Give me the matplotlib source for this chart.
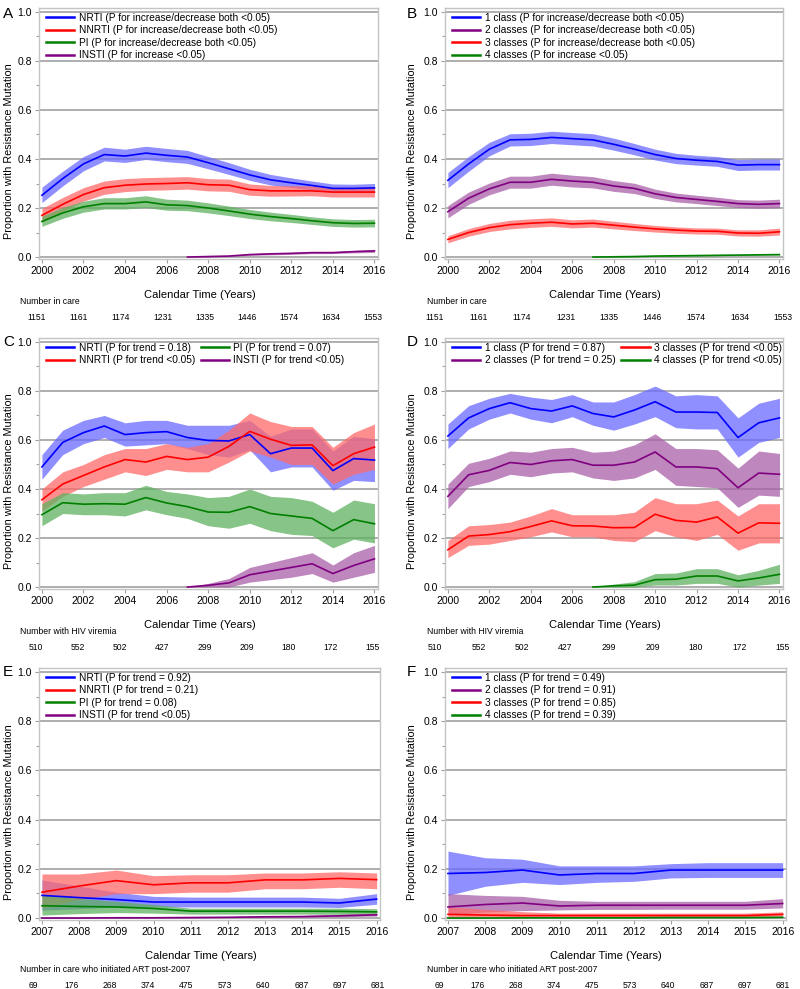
import matplotlib
matplotlib.use('Agg')
import matplotlib.pyplot as plt
import numpy as np

plt.rcParams['font.family'] = ['Liberation Sans', 'DejaVu Sans']

BLUE = '#0000ff'
RED = '#ff0000'
GREEN = '#008000'
PURPLE = '#800080'
BAND = {BLUE: '#6a6aff', RED: '#ff6a6a', GREEN: '#5fb05f', PURPLE: '#a860a8'}

YEARS_A = list(range(2000, 2017))
YEARS_I = list(range(2007, 2017))
YEARS_E = list(range(2007, 2017))

# ---- Panel A: resistance by drug class, all in care ----
A_NRTI = [0.252, 0.32, 0.38, 0.418, 0.412, 0.424, 0.415, 0.408, 0.385, 0.36, 0.335, 0.315, 0.303, 0.292, 0.28, 0.28, 0.282]
A_NRTI_HI = [0.285, 0.35, 0.41, 0.448, 0.44, 0.452, 0.443, 0.435, 0.41, 0.385, 0.358, 0.337, 0.323, 0.31, 0.298, 0.297, 0.3]
A_NRTI_LO = [0.222, 0.29, 0.352, 0.392, 0.386, 0.398, 0.389, 0.382, 0.36, 0.337, 0.313, 0.294, 0.284, 0.274, 0.264, 0.264, 0.266]
A_NNRTI = [0.17, 0.215, 0.255, 0.283, 0.293, 0.298, 0.3, 0.303, 0.295, 0.293, 0.275, 0.27, 0.27, 0.27, 0.265, 0.265, 0.265]
A_NNRTI_HI = [0.198, 0.243, 0.283, 0.31, 0.32, 0.324, 0.326, 0.328, 0.32, 0.318, 0.298, 0.292, 0.291, 0.29, 0.285, 0.285, 0.285]
A_NNRTI_LO = [0.142, 0.187, 0.228, 0.256, 0.267, 0.272, 0.274, 0.277, 0.27, 0.268, 0.252, 0.248, 0.249, 0.25, 0.245, 0.245, 0.245]
A_PI = [0.145, 0.18, 0.205, 0.218, 0.218, 0.225, 0.213, 0.21, 0.2, 0.188, 0.175, 0.165, 0.157, 0.148, 0.14, 0.137, 0.138]
A_PI_HI = [0.167, 0.203, 0.228, 0.242, 0.242, 0.25, 0.236, 0.232, 0.221, 0.208, 0.194, 0.183, 0.174, 0.164, 0.156, 0.153, 0.154]
A_PI_LO = [0.125, 0.158, 0.183, 0.196, 0.196, 0.202, 0.191, 0.189, 0.18, 0.169, 0.157, 0.148, 0.141, 0.133, 0.125, 0.122, 0.123]
A_INSTI = [0.0, 0.002, 0.004, 0.01, 0.013, 0.015, 0.018, 0.018, 0.022, 0.025]
A_INSTI_HI = [0.0, 0.004, 0.007, 0.014, 0.017, 0.019, 0.022, 0.022, 0.027, 0.031]
A_INSTI_LO = [0.0, 0.0, 0.002, 0.007, 0.009, 0.011, 0.014, 0.014, 0.017, 0.019]

# ---- Panel B: number of classes, all in care ----
B_1 = [0.313, 0.38, 0.44, 0.478, 0.48, 0.488, 0.483, 0.478, 0.46, 0.44, 0.418, 0.402, 0.395, 0.39, 0.375, 0.377, 0.377]
B_1_HI = [0.345, 0.41, 0.468, 0.503, 0.505, 0.513, 0.508, 0.503, 0.485, 0.463, 0.44, 0.423, 0.415, 0.41, 0.398, 0.4, 0.4]
B_1_LO = [0.283, 0.35, 0.413, 0.453, 0.455, 0.463, 0.458, 0.453, 0.436, 0.417, 0.396, 0.381, 0.375, 0.37, 0.353, 0.355, 0.355]
B_2 = [0.185, 0.24, 0.278, 0.305, 0.305, 0.317, 0.31, 0.305, 0.29, 0.28, 0.258, 0.243, 0.235, 0.227, 0.218, 0.215, 0.218]
B_2_HI = [0.21, 0.265, 0.302, 0.33, 0.33, 0.342, 0.334, 0.328, 0.312, 0.301, 0.277, 0.261, 0.252, 0.244, 0.234, 0.232, 0.236]
B_2_LO = [0.16, 0.215, 0.254, 0.281, 0.281, 0.293, 0.286, 0.282, 0.268, 0.259, 0.239, 0.225, 0.218, 0.21, 0.202, 0.199, 0.201]
B_3 = [0.072, 0.1, 0.12, 0.132, 0.138, 0.142, 0.135, 0.138, 0.13, 0.122, 0.115, 0.11, 0.106, 0.105, 0.098, 0.097, 0.103]
B_3_HI = [0.087, 0.116, 0.137, 0.15, 0.156, 0.16, 0.152, 0.155, 0.146, 0.137, 0.129, 0.123, 0.119, 0.118, 0.111, 0.111, 0.118]
B_3_LO = [0.058, 0.085, 0.104, 0.115, 0.121, 0.125, 0.119, 0.122, 0.115, 0.108, 0.102, 0.097, 0.094, 0.093, 0.086, 0.085, 0.09]
B_4 = [0.0, 0.001, 0.002, 0.004, 0.005, 0.006, 0.007, 0.008, 0.009, 0.01]
B_4_HI = [0.0, 0.002, 0.004, 0.006, 0.007, 0.008, 0.009, 0.01, 0.012, 0.013]
B_4_LO = [0.0, 0.0, 0.001, 0.002, 0.003, 0.004, 0.005, 0.006, 0.007, 0.008]

# ---- Panel C: drug class, with HIV viremia ----
C_NRTI = [0.49, 0.59, 0.63, 0.657, 0.622, 0.63, 0.634, 0.61, 0.598, 0.596, 0.622, 0.544, 0.567, 0.567, 0.475, 0.524, 0.518]
C_NRTI_HI = [0.54, 0.64, 0.68, 0.70, 0.67, 0.68, 0.68, 0.66, 0.66, 0.66, 0.68, 0.615, 0.645, 0.645, 0.555, 0.615, 0.605]
C_NRTI_LO = [0.44, 0.54, 0.585, 0.61, 0.575, 0.58, 0.585, 0.565, 0.54, 0.53, 0.56, 0.47, 0.49, 0.49, 0.395, 0.435, 0.43]
C_NNRTI = [0.356, 0.42, 0.455, 0.49, 0.52, 0.51, 0.533, 0.52, 0.53, 0.574, 0.635, 0.603, 0.578, 0.58, 0.495, 0.544, 0.571]
C_NNRTI_HI = [0.40, 0.47, 0.50, 0.54, 0.565, 0.565, 0.585, 0.57, 0.585, 0.64, 0.71, 0.675, 0.655, 0.655, 0.57, 0.63, 0.665]
C_NNRTI_LO = [0.31, 0.37, 0.41, 0.44, 0.47, 0.455, 0.48, 0.47, 0.47, 0.51, 0.555, 0.53, 0.50, 0.50, 0.42, 0.46, 0.48]
C_PI = [0.295, 0.344, 0.338, 0.34, 0.338, 0.365, 0.343, 0.328, 0.306, 0.305, 0.328, 0.30, 0.29, 0.28, 0.23, 0.275, 0.258]
C_PI_HI = [0.34, 0.385, 0.38, 0.385, 0.385, 0.415, 0.39, 0.38, 0.365, 0.37, 0.40, 0.37, 0.365, 0.35, 0.305, 0.355, 0.34]
C_PI_LO = [0.25, 0.30, 0.295, 0.295, 0.29, 0.315, 0.295, 0.28, 0.25, 0.24, 0.26, 0.23, 0.215, 0.21, 0.16, 0.195, 0.18]
C_INSTI = [0.0, 0.007, 0.017, 0.05, 0.065, 0.08, 0.095, 0.055, 0.088, 0.115]
C_INSTI_HI = [0.0, 0.015, 0.035, 0.08, 0.10, 0.12, 0.14, 0.09, 0.14, 0.17]
C_INSTI_LO = [0.0, 0.0, 0.0, 0.02, 0.03, 0.04, 0.055, 0.02, 0.04, 0.06]

# ---- Panel D: number of classes, with HIV viremia ----
D_1 = [0.616, 0.69, 0.728, 0.752, 0.728, 0.718, 0.739, 0.708, 0.694, 0.722, 0.756, 0.714, 0.714, 0.712, 0.61, 0.67, 0.69]
D_1_HI = [0.665, 0.74, 0.77, 0.79, 0.775, 0.765, 0.785, 0.755, 0.755, 0.785, 0.82, 0.78, 0.785, 0.78, 0.69, 0.75, 0.77]
D_1_LO = [0.565, 0.645, 0.685, 0.71, 0.685, 0.67, 0.695, 0.66, 0.64, 0.665, 0.695, 0.65, 0.645, 0.645, 0.53, 0.59, 0.61]
D_2 = [0.37, 0.458, 0.476, 0.508, 0.50, 0.515, 0.52, 0.497, 0.497, 0.51, 0.551, 0.49, 0.49, 0.483, 0.405, 0.465, 0.46]
D_2_HI = [0.42, 0.505, 0.525, 0.555, 0.55, 0.565, 0.57, 0.55, 0.555, 0.58, 0.625, 0.565, 0.565, 0.56, 0.485, 0.555, 0.545]
D_2_LO = [0.32, 0.41, 0.43, 0.46, 0.45, 0.465, 0.47, 0.445, 0.435, 0.445, 0.48, 0.415, 0.41, 0.405, 0.325, 0.375, 0.37]
D_3 = [0.152, 0.208, 0.214, 0.226, 0.247, 0.27, 0.25, 0.249, 0.242, 0.243, 0.297, 0.272, 0.265, 0.286, 0.22, 0.262, 0.26]
D_3_HI = [0.19, 0.25, 0.255, 0.265, 0.29, 0.32, 0.295, 0.295, 0.295, 0.305, 0.365, 0.34, 0.34, 0.355, 0.29, 0.34, 0.34]
D_3_LO = [0.12, 0.17, 0.175, 0.19, 0.205, 0.225, 0.205, 0.205, 0.19, 0.185, 0.23, 0.205, 0.19, 0.215, 0.15, 0.18, 0.18]
D_4 = [0.0, 0.005, 0.008, 0.03, 0.032, 0.045, 0.045, 0.025, 0.037, 0.052]
D_4_HI = [0.0, 0.012, 0.022, 0.055, 0.057, 0.075, 0.075, 0.05, 0.068, 0.093]
D_4_LO = [0.0, 0.0, 0.0, 0.008, 0.008, 0.015, 0.015, 0.0, 0.008, 0.015]

# ---- Panel E: drug class, initiated ART post-2007 ----
E_NRTI = [0.092, 0.083, 0.075, 0.065, 0.065, 0.065, 0.065, 0.065, 0.061, 0.077]
E_NRTI_HI = [0.155, 0.13, 0.105, 0.088, 0.085, 0.085, 0.085, 0.085, 0.08, 0.099]
E_NRTI_LO = [0.032, 0.038, 0.045, 0.045, 0.045, 0.045, 0.045, 0.045, 0.043, 0.056]
E_NNRTI = [0.105, 0.13, 0.152, 0.135, 0.143, 0.143, 0.155, 0.155, 0.161, 0.156]
E_NNRTI_HI = [0.179, 0.179, 0.195, 0.172, 0.176, 0.176, 0.183, 0.183, 0.188, 0.183]
E_NNRTI_LO = [0.04, 0.075, 0.099, 0.099, 0.105, 0.105, 0.119, 0.119, 0.125, 0.119]
E_PI = [0.05, 0.047, 0.045, 0.039, 0.028, 0.028, 0.028, 0.028, 0.027, 0.025]
E_PI_HI = [0.095, 0.08, 0.068, 0.055, 0.04, 0.04, 0.04, 0.04, 0.04, 0.038]
E_PI_LO = [0.012, 0.018, 0.022, 0.02, 0.016, 0.016, 0.016, 0.016, 0.015, 0.014]
E_INSTI = [0.0, 0.0, 0.001, 0.001, 0.002, 0.003, 0.005, 0.006, 0.009, 0.013]
E_INSTI_HI = [0.002, 0.002, 0.003, 0.004, 0.005, 0.006, 0.008, 0.01, 0.014, 0.02]
E_INSTI_LO = [0.0, 0.0, 0.0, 0.0, 0.0, 0.001, 0.002, 0.003, 0.005, 0.008]

# ---- Panel F: number of classes, initiated ART post-2007 ----
F_1 = [0.181, 0.185, 0.195, 0.175, 0.181, 0.181, 0.195, 0.195, 0.195, 0.195]
F_1_HI = [0.272, 0.245, 0.239, 0.212, 0.212, 0.212, 0.221, 0.225, 0.225, 0.225]
F_1_LO = [0.092, 0.129, 0.145, 0.136, 0.145, 0.149, 0.163, 0.165, 0.165, 0.165]
F_2 = [0.045, 0.055, 0.061, 0.049, 0.052, 0.052, 0.052, 0.052, 0.052, 0.059]
F_2_HI = [0.099, 0.092, 0.088, 0.072, 0.068, 0.068, 0.068, 0.068, 0.068, 0.079]
F_2_LO = [0.012, 0.025, 0.03, 0.033, 0.035, 0.035, 0.036, 0.036, 0.036, 0.041]
F_3 = [0.015, 0.012, 0.01, 0.01, 0.01, 0.01, 0.01, 0.01, 0.01, 0.015]
F_3_HI = [0.045, 0.035, 0.026, 0.02, 0.02, 0.02, 0.02, 0.02, 0.02, 0.025]
F_3_LO = [0.002, 0.003, 0.004, 0.004, 0.004, 0.004, 0.005, 0.005, 0.005, 0.008]
F_4 = [0.0, 0.0, 0.001, 0.001, 0.001, 0.001, 0.002, 0.002, 0.002, 0.003]
F_4_HI = [0.003, 0.003, 0.003, 0.003, 0.003, 0.003, 0.004, 0.004, 0.004, 0.005]
F_4_LO = [0.0, 0.0, 0.0, 0.0, 0.0, 0.0, 0.0, 0.0, 0.0, 0.0]

# numbers at risk rows
N_CARE = ['1151', '1161', '1174', '1231', '1335', '1446', '1574', '1634', '1553']
N_VIREMIA = ['510', '552', '502', '427', '299', '209', '180', '172', '155']
N_POST2007 = ['69', '176', '268', '374', '475', '573', '640', '687', '697', '681']

W, H = 800, 989
fig = plt.figure(figsize=(W / 100, H / 100), dpi=100)


def px(x, y):
    return x / W, 1 - y / H


def make_axes(l, r, t, b):
    ax = fig.add_axes([l / W, 1 - b / H, (r - l) / W, (b - t) / H])
    ax.set_ylim(-0.008, 1.016)
    ax.set_yticks(np.arange(0, 1.01, 0.2))
    ax.set_yticks(np.arange(0.1, 1.0, 0.2), minor=True)
    ax.yaxis.set_major_formatter(matplotlib.ticker.FormatStrFormatter('%.1f'))
    ax.grid(axis='y', color='#a8a8a8', linewidth=1.3)
    ax.set_axisbelow(True)
    for s in ax.spines.values():
        s.set_color('#c4c4c4')
        s.set_linewidth(1.0)
    ax.tick_params(axis='both', which='both', colors='#a0a0a0', labelcolor='black',
                   labelsize=7.5, length=3, width=0.8, pad=2)
    ax.tick_params(axis='y', which='minor', length=2)
    ax.set_ylabel('Proportion with Resistance Mutation', fontsize=7.8)
    return ax


def draw(ax, series, ncol=1):
    # bands first, then lines on top
    for x, mid, lo, hi, col, lab in series:
        ax.fill_between(x, lo, hi, color=BAND[col], alpha=0.75, linewidth=0)
    for x, mid, lo, hi, col, lab in series:
        ax.plot(x, mid, color=col, linewidth=1.2, label=lab)
    leg = ax.legend(loc='upper left', bbox_to_anchor=(0.0, 1.01), ncol=ncol, frameon=False,
                    fontsize=7.3, handlelength=2.8, handletextpad=0.4,
                    labelspacing=0.25, columnspacing=0.6, borderaxespad=0.3)
    for h in leg.get_lines():
        h.set_linewidth(1.8)


def bottom_text(y_xlab, xlab_cx, lab_x, y_lab, lab_text, y_num, num_x0, num_x1, nums):
    fig.text(*px(xlab_cx, y_xlab), 'Calendar Time (Years)', ha='center', va='center', fontsize=8)
    fig.text(*px(lab_x, y_lab), lab_text, ha='left', va='center', fontsize=6.2)
    for xx, s in zip(np.linspace(num_x0, num_x1, len(nums)), nums):
        fig.text(*px(xx, y_num), s, ha='center', va='center', fontsize=6.2)


# ---- A ----
axA = make_axes(39, 378, 8, 259)
draw(axA, [
    (YEARS_A, A_NRTI, A_NRTI_LO, A_NRTI_HI, BLUE, 'NRTI (P for increase/decrease both <0.05)'),
    (YEARS_A, A_NNRTI, A_NNRTI_LO, A_NNRTI_HI, RED, 'NNRTI (P for increase/decrease both <0.05)'),
    (YEARS_A, A_PI, A_PI_LO, A_PI_HI, GREEN, 'PI (P for increase/decrease both <0.05)'),
    (YEARS_I, A_INSTI, A_INSTI_LO, A_INSTI_HI, PURPLE, 'INSTI (P for increase <0.05)'),
])
# ---- B ----
axB = make_axes(445, 783, 8, 259)
draw(axB, [
    (YEARS_A, B_1, B_1_LO, B_1_HI, BLUE, '1 class (P for increase/decrease both <0.05)'),
    (YEARS_A, B_2, B_2_LO, B_2_HI, PURPLE, '2 classes (P for increase/decrease both <0.05)'),
    (YEARS_A, B_3, B_3_LO, B_3_HI, RED, '3 classes (P for increase/decrease both <0.05)'),
    (YEARS_I, B_4, B_4_LO, B_4_HI, GREEN, '4 classes (P for increase <0.05)'),
])
# ---- C ----
axC = make_axes(39, 378, 338, 589)
draw(axC, [
    (YEARS_A, C_NRTI, C_NRTI_LO, C_NRTI_HI, BLUE, 'NRTI (P for trend = 0.18)'),
    (YEARS_A, C_NNRTI, C_NNRTI_LO, C_NNRTI_HI, RED, 'NNRTI (P for trend <0.05)'),
    (YEARS_A, C_PI, C_PI_LO, C_PI_HI, GREEN, 'PI (P for trend = 0.07)'),
    (YEARS_I, C_INSTI, C_INSTI_LO, C_INSTI_HI, PURPLE, 'INSTI (P for trend <0.05)'),
], ncol=2)
# ---- D ----
axD = make_axes(445, 783, 338, 589)
draw(axD, [
    (YEARS_A, D_1, D_1_LO, D_1_HI, BLUE, '1 class (P for trend = 0.87)'),
    (YEARS_A, D_2, D_2_LO, D_2_HI, PURPLE, '2 classes (P for trend = 0.25)'),
    (YEARS_A, D_3, D_3_LO, D_3_HI, RED, '3 classes (P for trend <0.05)'),
    (YEARS_I, D_4, D_4_LO, D_4_HI, GREEN, '4 classes (P for trend <0.05)'),
], ncol=2)
# ---- E ----
axE = make_axes(39, 380, 668, 920)
draw(axE, [
    (YEARS_E, E_NRTI, E_NRTI_LO, E_NRTI_HI, BLUE, 'NRTI (P for trend = 0.92)'),
    (YEARS_E, E_NNRTI, E_NNRTI_LO, E_NNRTI_HI, RED, 'NNRTI (P for trend = 0.21)'),
    (YEARS_E, E_PI, E_PI_LO, E_PI_HI, GREEN, 'PI (P for trend = 0.08)'),
    (YEARS_E, E_INSTI, E_INSTI_LO, E_INSTI_HI, PURPLE, 'INSTI (P for trend <0.05)'),
])
# ---- F ----
axF = make_axes(445, 786, 668, 920)
draw(axF, [
    (YEARS_E, F_1, F_1_LO, F_1_HI, BLUE, '1 class (P for trend = 0.49)'),
    (YEARS_E, F_2, F_2_LO, F_2_HI, PURPLE, '2 classes (P for trend = 0.91)'),
    (YEARS_E, F_3, F_3_LO, F_3_HI, RED, '3 classes (P for trend = 0.85)'),
    (YEARS_E, F_4, F_4_LO, F_4_HI, GREEN, '4 classes (P for trend = 0.39)'),
])

for ax in (axA, axB, axC, axD):
    ax.set_xlim(1999.86, 2016.17)
    ax.set_xticks(range(2000, 2017, 2))
for ax in (axE, axF):
    ax.set_xlim(2006.92, 2016.09)
    ax.set_xticks(range(2007, 2017))

# y label anchor is its right edge; label sits a little below the axes centre
for ax in (axA, axC, axE):
    ax.yaxis.set_label_coords(-0.074, 0.43)
for ax in (axB, axD, axF):
    ax.yaxis.set_label_coords(-0.082, 0.43)

# panel letters
for letter, x, y in [('A', 3, 14), ('B', 407, 14), ('C', 3, 342), ('D', 407, 342), ('E', 3, 672), ('F', 407, 672)]:
    fig.text(*px(x, y), letter, ha='left', va='center', fontsize=11)

bottom_text(295, 200, 20, 302, 'Number in care', 317, 37, 373, N_CARE)
bottom_text(295, 605, 427, 302, 'Number in care', 317, 435, 783, N_CARE)
bottom_text(625, 200, 20, 632, 'Number with HIV viremia', 647, 36, 373, N_VIREMIA)
bottom_text(625, 605, 427, 632, 'Number with HIV viremia', 647, 435, 783, N_VIREMIA)
bottom_text(956, 201, 20, 969, 'Number in care who initiated ART post-2007', 985, 33, 378, N_POST2007)
bottom_text(956, 606, 427, 969, 'Number in care who initiated ART post-2007', 985, 439, 783, N_POST2007)

fig.savefig('out.png', dpi=100)
